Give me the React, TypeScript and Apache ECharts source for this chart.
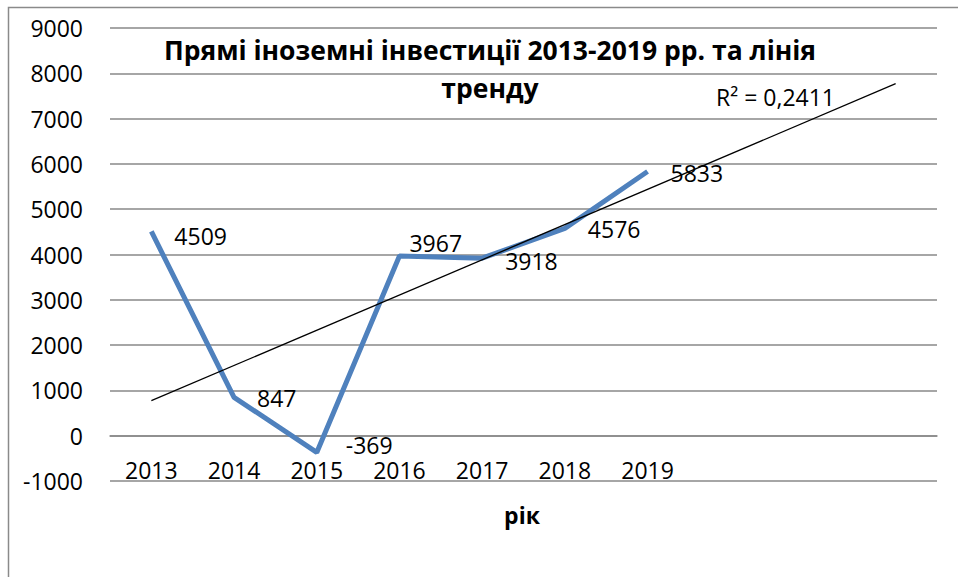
import React, { useEffect, useRef } from "react";
import * as echarts from "echarts";

const years = ["2013", "2014", "2015", "2016", "2017", "2018", "2019", "", "", ""];
const investments = [4509, 847, -369, 3967, 3918, 4576, 5833];
const trendValues = [773, null, null, null, null, null, null, null, null, 7770];
const yMin = -1000;
const yMax = 9000;
const yStep = 1000;
const titleText = "Прямі іноземні інвестиції 2013-2019 рр. та лінія\nтренду";
const xName = "рік";
const r2Text = "R² = 0,2411";

const labelOffsets = [
  [0, 5],
  [0, 1],
  [6, -7],
  [-13, -13],
  [0, 3],
  [0, 1],
  [0, 2],
];

const FONT = "'Open Sans', 'Noto Sans', sans-serif";
const GRID_TOP = 28;
const GRID_BOTTOM = 96;
const CHART_H = 577;

export default function App() {
  const ref = useRef<HTMLDivElement>(null);
  useEffect(() => {
    if (!ref.current) return;
    const chart = echarts.init(ref.current, undefined, { renderer: "svg" });
    const lineData = investments.map((v, i) => ({
      value: v,
      label: { offset: labelOffsets[i] },
    }));
    // shift the category axis up so that it sits on the zero line
    const plotH = CHART_H - GRID_TOP - GRID_BOTTOM;
    const zeroShift = (plotH * (0 - yMin)) / (yMax - yMin);
    chart.setOption({
      animation: false,
      backgroundColor: "#ffffff",
      textStyle: { fontFamily: FONT },
      grid: { left: 110, right: 21, top: GRID_TOP, bottom: GRID_BOTTOM, containLabel: false },
      xAxis: {
        type: "category",
        data: years,
        boundaryGap: true,
        position: "bottom",
        offset: -zeroShift,
        axisLine: { show: true, onZero: false, lineStyle: { color: "#898989", width: 1.5 } },
        axisTick: { show: false },
        axisLabel: {
          color: "#000",
          fontSize: 23,
          lineHeight: 23,
          margin: 23,
          fontFamily: FONT,
          interval: 0,
        },
        splitLine: { show: false },
      },
      yAxis: {
        type: "value",
        min: yMin,
        max: yMax,
        interval: yStep,
        axisLine: { show: false },
        axisTick: { show: false },
        axisLabel: {
          color: "#000",
          fontSize: 23,
          margin: 27,
          fontFamily: FONT,
          formatter: (v: number) => String(v),
        },
        splitLine: { lineStyle: { color: "#898989", width: 1.5 } },
      },
      series: [
        {
          type: "line",
          data: lineData,
          symbol: "circle",
          symbolSize: 2,
          itemStyle: { color: "rgba(0,0,0,0)" },
          lineStyle: { color: "#4F81BD", width: 5 },
          label: {
            show: true,
            position: "right",
            distance: 22,
            color: "#000",
            fontSize: 23,
            lineHeight: 23,
            fontFamily: FONT,
          },
          z: 2,
        },
        {
          type: "line",
          data: trendValues,
          connectNulls: true,
          symbol: "none",
          lineStyle: { color: "#000", width: 1.3 },
          z: 3,
        },
      ],
      graphic: [
        {
          type: "rect",
          shape: { x: 8.5, y: 7.5, width: 1200, height: 1200 },
          style: { fill: "none", stroke: "#8a8a8a", lineWidth: 1.5 },
          silent: true,
        },
        {
          type: "text",
          x: 490,
          y: 69,
          style: {
            text: titleText,
            textAlign: "center",
            textVerticalAlign: "middle",
            font: `bold 26.5px ${FONT}`,
            lineHeight: 38,
            fill: "#000",
          },
          z: 10,
        },
        {
          type: "text",
          x: 522,
          y: 515,
          style: {
            text: xName,
            textAlign: "center",
            textVerticalAlign: "middle",
            font: `bold 23px ${FONT}`,
            fill: "#000",
          },
        },
        {
          type: "text",
          x: 716,
          y: 97,
          style: {
            text: r2Text,
            textAlign: "left",
            textVerticalAlign: "middle",
            font: `23px ${FONT}`,
            fill: "#000",
          },
        },
      ],
    });
    return () => chart.dispose();
  }, []);
  return (
    <div
      ref={ref}
      style={{ position: "fixed", left: 0, top: 0, width: 958, height: 577 }}
    />
  );
}
